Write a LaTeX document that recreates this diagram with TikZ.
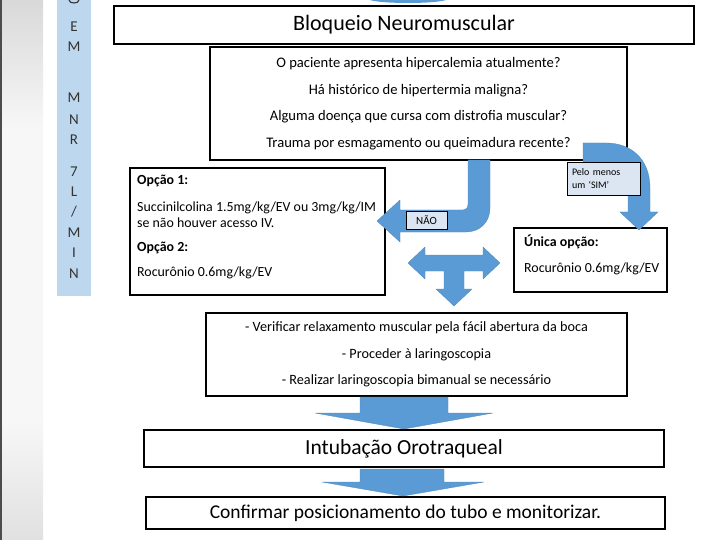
\documentclass[tikz,border=0pt]{standalone}
\usepackage{fontspec}
\setmainfont{Carlito}
\usetikzlibrary{positioning}
\definecolor{arrowblue}{RGB}{91,155,213}
\definecolor{sidebarblue}{RGB}{189,215,238}
\definecolor{tagblue}{RGB}{220,230,242}

\begin{document}
\begin{tikzpicture}[
    x=1pt, y=-1pt,
    box/.style={
      rectangle, draw=black, line width=1.1pt, inner sep=0pt, align=center
    },
    tag/.style={
      rectangle, draw=black, line width=0.9pt, fill=tagblue, inner sep=0pt
    },
    blockarrow/.style={fill=arrowblue, draw=arrowblue!85!black, line width=0.3pt},
    sideletter/.style={font=\fontsize{15}{15}\selectfont, text=black!80},
  ]
  \useasboundingbox (0,0) rectangle (720,540);

  %% Left strip and sidebar
  \fill[black!3] (0,0) rectangle (43,540);
  \shade[top color=black!15, bottom color=black!3] (0,0) rectangle (43,130);
  \shade[top color=black!3, bottom color=black!12] (0,420) rectangle (43,540);
  \fill[black!70] (0,0) rectangle (1.5,540);
  \fill[sidebarblue] (57,0) rectangle (91,296);
  \draw[black!80, line width=1.1pt] (69,0) .. controls (69,4) and (79,4) .. (79,0);
  \foreach \l/\y in {E/27, M/47, M/98, N/120, R/140, 7/172, L/192, {/}/212, M/233, I/253, N/274}
    \node[sideletter] (s\y) at (74,\y) {\l};
  \fill[arrowblue] (370,0) .. controls (382,4) and (434,4) .. (446,0) -- cycle;

  %% Boxes
  \node[box, minimum width=580, minimum height=38, font=\fontsize{22}{22}\selectfont]
    (title) at (404,25) {Bloqueio Neuromuscular};
  \node[box, minimum width=417, minimum height=113, font=\fontsize{14.6}{26.5}\selectfont]
    (quest) at (418.5,103.5)
    {O paciente apresenta hipercalemia atualmente?\\
     Há histórico de hipertermia maligna?\\
     Alguma doença que cursa com distrofia muscular?\\
     Trauma por esmagamento ou queimadura recente?};
  \node[box, minimum width=255, minimum height=127] (opt1) at (257.5,231.5) {};
  \node[anchor=north west, inner sep=0pt, align=left, font=\fontsize{13.9}{16}\selectfont]
    (opt1txt) at (137,175)
    {\textbf{Opção 1:}\\[11pt]
     Succinilcolina 1.5mg/kg/EV ou 3mg/kg/IM\\
     se não houver acesso IV.\\[8pt]
     \textbf{Opção 2:}\\[9pt]
     Rocurônio 0.6mg/kg/EV};
  \node[box, minimum width=153, minimum height=64] (opt2) at (590.5,260) {};
  \node[anchor=north west, inner sep=0pt, align=left, font=\fontsize{13.9}{16}\selectfont]
    (opt2txt) at (524,235)
    {\textbf{Única opção:}\\[10pt]
     Rocurônio 0.6mg/kg/EV};
  \node[box, minimum width=421, minimum height=83, font=\fontsize{14.2}{26.5}\selectfont]
    (check) at (416.5,354.5)
    {- Verificar relaxamento muscular pela fácil abertura da boca\\
     - Proceder à laringoscopia\\
     - Realizar laringoscopia bimanual se necessário};
  \node[box, minimum width=520, minimum height=37, font=\fontsize{21.5}{21.5}\selectfont]
    (oti) at (404,448.5) {Intubação Orotraqueal};
  \node[box, minimum width=519, minimum height=32, font=\fontsize{19.5}{19.5}\selectfont]
    (conf) at (405.5,513) {Confirmar posicionamento do tubo e monitorizar.};

  %% Block arrows
  % NÃO: down then left
  \draw[blockarrow] (468,160) -- (468,204) .. controls (468,208) and (466,210) .. (462,210)
    -- (400,210) -- (400,200) -- (377,221) -- (400,242) -- (400,232) -- (466,232)
    .. controls (480,232) and (490,222) .. (490,208) -- (490,160) -- cycle;
  % SIM: right then down
  \draw[blockarrow] (583,143) -- (606,143) .. controls (632,143) and (650,160) .. (650,188)
    -- (650,212) -- (658,212) -- (639,230) -- (620,212) -- (628,212) -- (628,192)
    .. controls (628,176) and (614,165) .. (596,165) -- (583,165) -- cycle;
  % T arrow
  \draw[blockarrow] (408,263) -- (425,247) -- (425,255) -- (483,255) -- (483,247)
    -- (500,263) -- (483,279) -- (483,271) -- (464,271) -- (464,289) -- (472,289)
    -- (454,306) -- (436,289) -- (444,289) -- (444,271) -- (425,271) -- (425,279) -- cycle;
  % down arrows
  \draw[blockarrow] (360,397) -- (448,397) -- (448,413) -- (493,413) -- (404,429)
    -- (315,413) -- (360,413) -- cycle;
  \draw[blockarrow] (360,469) -- (444,469) -- (444,482) -- (484,482) -- (403,496)
    -- (322,482) -- (360,482) -- cycle;

  %% Tags on arrows
  \node[tag, minimum width=73, minimum height=33, align=left, text width=63,
        font=\fontsize{10}{13}\selectfont]
    (sim) at (603.5,178.5) {Pelo menos\\um `SIM'};
  \node[tag, minimum width=41, minimum height=18, font=\fontsize{11}{11}\selectfont]
    (nao) at (426.5,220) {NÃO};

\end{tikzpicture}
\end{document}
